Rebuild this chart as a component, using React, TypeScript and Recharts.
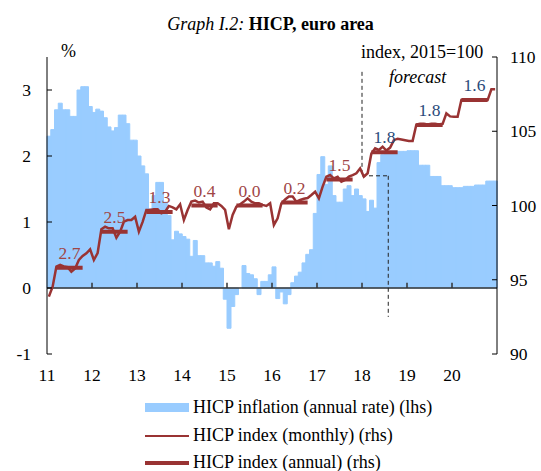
import { ComposedChart, Bar, Line, XAxis, YAxis, ReferenceLine, ReferenceDot } from 'recharts';

const years = ['11', '12', '13', '14', '15', '16', '17', '18', '19', '20'];

// HICP inflation, annual rate, % (monthly, Jan 2011 - Dec 2020)
const inflation = [
  2.3, 2.4, 2.7, 2.8, 2.7, 2.7, 2.6, 2.6, 3.0, 3.05, 3.05, 2.75,
  2.66, 2.71, 2.68, 2.58, 2.44, 2.38, 2.43, 2.62, 2.62, 2.49, 2.24, 2.24,
  2.0, 1.85, 1.73, 1.2, 1.4, 1.6, 1.6, 1.3, 1.1, 0.73, 0.86, 0.82,
  0.78, 0.74, 0.48, 0.72, 0.49, 0.49, 0.38, 0.38, 0.33, 0.4, 0.3, -0.17,
  -0.61, -0.28, -0.1, 0.0, 0.34, 0.22, 0.2, 0.14, -0.1, 0.1, 0.1, 0.2,
  0.32, -0.16, -0.06, -0.24, -0.1, 0.08, 0.18, 0.24, 0.38, 0.51, 0.58, 1.13,
  1.72, 1.99, 1.57, 1.85, 1.4, 1.3, 1.3, 1.5, 1.55, 1.4, 1.5, 1.4,
  1.35, 1.16, 1.33, 1.21, 1.9, 2.02, 2.03, 2.06, 2.06, 2.07, 2.07, 2.07,
  2.08, 2.08, 2.08, 1.86, 1.86, 1.86, 1.69, 1.69, 1.69, 1.55, 1.55, 1.55,
  1.52, 1.52, 1.52, 1.54, 1.54, 1.54, 1.56, 1.56, 1.56, 1.62, 1.62, 1.62,
];

// HICP index, 2015=100 (monthly)
const indexMonthly = [
  93.86, 94.53, 95.88, 96.0, 95.9, 95.85, 95.54, 95.76, 96.33, 96.6, 96.78, 97.05,
  96.33, 96.8, 98.4, 98.57, 98.46, 98.46, 97.83, 98.24, 98.91, 99.02, 99.02, 99.24,
  98.24, 98.9, 99.7, 99.7, 99.74, 99.74, 99.47, 99.58, 99.97, 99.88, 99.74, 100.08,
  99.02, 99.7, 100.26, 100.33, 100.2, 100.26, 99.87, 99.74, 100.15, 100.15, 99.97, 99.7,
  98.4, 99.36, 99.92, 100.08, 100.26, 100.48, 100.26, 100.15, 100.15, 100.04, 99.97, 100.15,
  98.69, 99.14, 100.15, 100.4, 100.6, 100.6, 100.26, 100.37, 100.45, 100.5, 100.71, 100.93,
  100.48, 101.27, 101.94, 102.05, 101.83, 101.94, 101.6, 101.72, 101.94, 102.05, 102.17, 102.5,
  101.94, 102.17, 103.5, 103.85, 103.74, 103.96, 103.7, 103.9, 104.4, 104.5, 104.45, 104.4,
  104.35, 104.35, 105.45, 105.5, 105.5, 105.45, 105.5, 105.5, 105.45, 105.5, 106.2, 106.0,
  105.98, 105.98, 107.1, 107.1, 107.1, 107.1, 107.1, 107.1, 107.1, 107.1, 107.83, 107.83,
];

// HICP index, annual average, and annual rate labels
const annualIndex = [95.81, 98.24, 99.56, 100.0, 100.0, 100.2, 101.75, 103.58, 105.42, 107.1];
const annualRate = ['2.7', '2.5', '1.3', '0.4', '0.0', '0.2', '1.5', '1.8', '1.8', '1.6'];
const firstForecastYear = 7; // 2018 onwards labelled in blue
const forecastStart = 91; // Aug 2018, month index

const FONT = '"Times New Roman", "Liberation Serif", serif';
const RED = '#993333';
const RED_LABEL = '#A04545';
const BLUE_LABEL = '#2A4A7A';
const BAR = '#99CCFF';

const data = inflation.map((v, i) => {
  const y = Math.floor(i / 12);
  const m = i % 12;
  return {
    mon: `${years[y]}-${m + 1}`,
    t: i + 0.5,
    infl: v,
    idx: indexMonthly[i],
    ann: m >= 2 && m <= 9 ? annualIndex[y] : null,
  };
});

const tickStyle = { fill: '#000', fontSize: 17.5, fontFamily: FONT };
const txt = { position: 'absolute' as const, fontFamily: FONT, fontSize: 18, lineHeight: '17px', color: '#000', whiteSpace: 'nowrap' as const };

const App = () => {
  return (
    <div style={{ position: 'absolute', left: 0, top: 0, width: 541, height: 471, background: '#fff', fontFamily: FONT }}>
      <ComposedChart
        width={541}
        height={471}
        data={data}
        margin={{ top: 57, right: 0, bottom: 87, left: 0 }}
        barCategoryGap={0}
        barGap={0}
        style={{ fontFamily: FONT }}
      >
        <XAxis xAxisId="cat" dataKey="mon" orientation="top" hide />
        <XAxis
          xAxisId="num"
          dataKey="t"
          type="number"
          domain={[0, 120]}
          ticks={years.map((_, i) => i * 12)}
          tickFormatter={(v) => years[v / 12]}
          interval={0}
          axisLine={false}
          tickLine={false}
          tickMargin={9}
          tick={tickStyle}
          allowDataOverflow
        />
        <YAxis
          yAxisId="l"
          domain={[-1, 3.5]}
          ticks={[-1, 0, 1, 2, 3]}
          width={47}
          tickSize={-5}
          tickMargin={21}
          axisLine={{ stroke: '#000' }}
          tickLine={{ stroke: '#000' }}
          tick={tickStyle}
        />
        <YAxis
          yAxisId="r"
          orientation="right"
          domain={[90, 110]}
          ticks={[90, 95, 100, 105, 110]}
          width={44}
          tickSize={-5}
          tickMargin={18}
          axisLine={{ stroke: '#000' }}
          tickLine={{ stroke: '#000' }}
          tick={tickStyle}
        />
        <Bar xAxisId="cat" yAxisId="l" dataKey="infl" fill={BAR} stroke={BAR} strokeWidth={1} isAnimationActive={false} />
        <ReferenceLine xAxisId="num" yAxisId="l" y={0} stroke="#333" strokeWidth={1.5} />
        {years.slice(1).map((_, i) => (
          <ReferenceLine
            key={'tk' + i}
            xAxisId="num"
            yAxisId="l"
            segment={[{ x: (i + 1) * 12, y: 0 }, { x: (i + 1) * 12, y: 0.08 }]}
            stroke="#333"
            strokeWidth={1.5}
          />
        ))}
        <ReferenceLine xAxisId="num" yAxisId="r" segment={[{ x: 84, y: 109 }, { x: 84, y: 102 }]} stroke="#222" strokeDasharray="4 3" />
        <ReferenceLine xAxisId="num" yAxisId="r" segment={[{ x: 84, y: 102 }, { x: forecastStart, y: 102 }]} stroke="#222" strokeDasharray="4 3" />
        <ReferenceLine xAxisId="num" yAxisId="r" segment={[{ x: forecastStart, y: 102 }, { x: forecastStart, y: 92.5 }]} stroke="#222" strokeDasharray="4 3" />
        <Line xAxisId="num" yAxisId="r" dataKey="idx" stroke={RED} strokeWidth={2.5} dot={false} isAnimationActive={false} />
        <Line xAxisId="num" yAxisId="r" dataKey="ann" stroke={RED} strokeWidth={4} dot={false} connectNulls={false} isAnimationActive={false} />
        {annualIndex.map((v, i) => (
          <ReferenceDot
            key={'lb' + i}
            xAxisId="num"
            yAxisId="r"
            x={i * 12 + 6}
            y={v}
            r={0}
            fill="none"
            stroke="none"
            label={{
              value: annualRate[i],
              position: 'top',
              offset: 9,
              fill: i >= firstForecastYear ? BLUE_LABEL : RED_LABEL,
              fontSize: 17.5,
              fontFamily: FONT,
            }}
          />
        ))}
      </ComposedChart>

      <div style={{ ...txt, left: 0, width: 541, top: 16, textAlign: 'center' }}>
        <i>Graph I.2:</i> <b>HICP, euro area</b>
      </div>
      <div style={{ ...txt, left: 61, top: 43 }}>%</div>
      <div style={{ ...txt, left: 361, top: 44 }}>index, 2015=100</div>
      <div style={{ ...txt, left: 389, top: 69, fontStyle: 'italic' }}>forecast</div>

      <div style={{ ...txt, left: 145, top: 399, display: 'flex', alignItems: 'center' }}>
        <span style={{ display: 'inline-block', width: 44, height: 9, background: BAR, marginRight: 4 }} />
        HICP inflation (annual rate) (lhs)
      </div>
      <div style={{ ...txt, left: 145, top: 427, display: 'flex', alignItems: 'center' }}>
        <span style={{ display: 'inline-block', width: 44, height: 2, background: RED, marginRight: 4 }} />
        HICP index (monthly) (rhs)
      </div>
      <div style={{ ...txt, left: 145, top: 454, display: 'flex', alignItems: 'center' }}>
        <span style={{ display: 'inline-block', width: 44, height: 4, background: RED, marginRight: 4 }} />
        HICP index (annual) (rhs)
      </div>
    </div>
  );
};

export default App;
